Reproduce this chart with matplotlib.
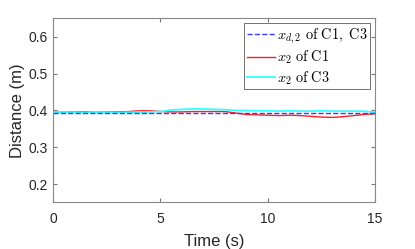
import numpy as np
import matplotlib.pyplot as plt

plt.rcParams["mathtext.fontset"] = "cm"
plt.rcParams["font.family"] = ["Liberation Sans", "DejaVu Sans"]

# values
time = np.arange(0, 15.01, 0.5)
x_d2 = [0.394] * len(time)
x2_c1 = [0.395, 0.395, 0.396, 0.396, 0.395, 0.396, 0.396, 0.397, 0.399, 0.399,
         0.397, 0.396, 0.396, 0.397, 0.397, 0.397, 0.397, 0.393, 0.389, 0.388,
         0.387, 0.386, 0.387, 0.386, 0.384, 0.382, 0.381, 0.383, 0.386, 0.389,
         0.391]
x2_c3 = [0.394, 0.395, 0.395, 0.394, 0.395, 0.395, 0.394, 0.395, 0.395, 0.396,
         0.397, 0.401, 0.403, 0.404, 0.404, 0.403, 0.402, 0.400, 0.400, 0.399,
         0.399, 0.398, 0.399, 0.398, 0.398, 0.399, 0.398, 0.398, 0.398, 0.398,
         0.395]

fig = plt.figure(figsize=(4.15, 2.49), dpi=100)
ax = fig.add_axes([0.128, 0.187, 0.776, 0.739])

ax.plot(time, x_d2, "--", color="#3b3bff", lw=1.0, zorder=4,
        label=r"$x_{d,2}\ \mathrm{of\ C1,\ C3}$")
ax.plot(time, x2_c1, "-", color="#ff2020", lw=1.0, zorder=2,
        label=r"$x_2\ \mathrm{of\ C1}$")
ax.plot(time, x2_c3, "-", color="#33ffff", lw=1.3, zorder=3,
        label=r"$x_2\ \mathrm{of\ C3}$")

ax.set_xlim(0, 15)
ax.set_ylim(0.15, 0.65)
ax.set_xticks([0, 5, 10, 15])
ax.set_yticks([0.2, 0.3, 0.4, 0.5, 0.6])
ax.tick_params(direction="in", top=True, right=True, length=3, pad=4,
               color="#777777", labelsize=10, labelcolor="#262626")
ax.tick_params(axis="x", pad=7)
for s in ax.spines.values():
    s.set_color("#888888")
ax.set_xlabel("Time (s)", fontsize=12, color="#262626", labelpad=6)
ax.set_ylabel("Distance (m)", fontsize=12, color="#262626", labelpad=2)

leg = ax.legend(loc="upper right", fontsize=10.3, frameon=True, fancybox=False,
                borderpad=0.2, labelspacing=0.2, handlelength=2.0,
                handletextpad=0.1, borderaxespad=0.35)
leg.get_frame().set_edgecolor("#333333")
leg.get_frame().set_linewidth(0.6)

fig.savefig("out.png", dpi=100)
